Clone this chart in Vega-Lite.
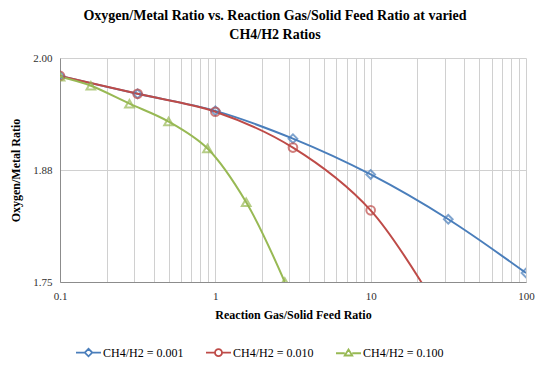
{
  "$schema": "https://vega.github.io/schema/vega-lite/v6.json",
  "autosize": {"type": "none"},
  "width": 466,
  "height": 224,
  "padding": {"left": 60, "top": 58, "right": 24, "bottom": 85},
  "background": "white",
  "title": {
    "text": ["Oxygen/Metal Ratio vs. Reaction Gas/Solid Feed Ratio at varied", "CH4/H2 Ratios"],
    "font": "Liberation Serif",
    "fontSize": 14,
    "fontWeight": "bold",
    "color": "#000000",
    "anchor": "middle",
    "frame": "group",
    "dx": -18,
    "offset": 10,
    "lineHeight": 19
  },
  "config": {
    "view": {"stroke": null},
    "axis": {
      "labelFont": "Liberation Serif",
      "labelFontSize": 11,
      "labelColor": "#303030",
      "labelFlush": false,
      "titleFont": "Liberation Serif",
      "titleFontSize": 12,
      "titleFontWeight": "bold",
      "titleColor": "#000000",
      "gridColor": "#d0d0d0",
      "gridWidth": 1,
      "domainColor": "#8c8c8c",
      "ticks": false
    },
    "legend": {
      "labelFont": "Liberation Serif",
      "labelFontSize": 12,
      "labelColor": "#000000"
    }
  },
  "data": {
    "values": [
      {"series": "CH4/H2 = 0.001", "x": 0.1, "y": 1.980},
      {"series": "CH4/H2 = 0.001", "x": 0.316, "y": 1.960},
      {"series": "CH4/H2 = 0.001", "x": 1, "y": 1.941},
      {"series": "CH4/H2 = 0.001", "x": 3.16, "y": 1.910},
      {"series": "CH4/H2 = 0.001", "x": 10, "y": 1.870},
      {"series": "CH4/H2 = 0.001", "x": 31.6, "y": 1.820},
      {"series": "CH4/H2 = 0.001", "x": 100, "y": 1.760},
      {"series": "CH4/H2 = 0.010", "x": 0.1, "y": 1.980},
      {"series": "CH4/H2 = 0.010", "x": 0.316, "y": 1.960},
      {"series": "CH4/H2 = 0.010", "x": 1, "y": 1.940},
      {"series": "CH4/H2 = 0.010", "x": 3.16, "y": 1.900},
      {"series": "CH4/H2 = 0.010", "x": 10, "y": 1.830},
      {"series": "CH4/H2 = 0.010", "x": 31.6, "y": 1.700},
      {"series": "CH4/H2 = 0.100", "x": 0.1, "y": 1.979},
      {"series": "CH4/H2 = 0.100", "x": 0.158, "y": 1.969},
      {"series": "CH4/H2 = 0.100", "x": 0.28, "y": 1.949},
      {"series": "CH4/H2 = 0.100", "x": 0.5, "y": 1.929},
      {"series": "CH4/H2 = 0.100", "x": 0.89, "y": 1.899},
      {"series": "CH4/H2 = 0.100", "x": 1.58, "y": 1.839},
      {"series": "CH4/H2 = 0.100", "x": 2.8, "y": 1.750}
    ]
  },
  "encoding": {
    "x": {
      "field": "x",
      "type": "quantitative",
      "scale": {"type": "log", "domain": [0.1, 100], "nice": false},
      "axis": {
        "title": "Reaction Gas/Solid Feed Ratio",
        "values": [0.1, 0.2, 0.3, 0.4, 0.5, 0.6, 0.7, 0.8, 0.9, 1, 2, 3, 4, 5, 6, 7, 8, 9, 10, 20, 30, 40, 50, 60, 70, 80, 90, 100],
        "labelExpr": "datum.value == 0.1 ? '0.1' : datum.value == 1 ? '1' : datum.value == 10 ? '10' : datum.value == 100 ? '100' : ''",
        "labelPadding": 8,
        "titlePadding": 8
      }
    },
    "y": {
      "field": "y",
      "type": "quantitative",
      "scale": {"domain": [1.75, 2.0], "nice": false, "zero": false},
      "axis": {
        "title": "Oxygen/Metal Ratio",
        "values": [1.75, 1.875, 2.0],
        "format": ".2f",
        "labelPadding": 8,
        "titlePadding": 10
      }
    },
    "color": {
      "field": "series",
      "type": "nominal",
      "scale": {
        "domain": ["CH4/H2 = 0.001", "CH4/H2 = 0.010", "CH4/H2 = 0.100"],
        "range": ["#4a7ebb", "#be4b48", "#98b954"]
      },
      "legend": {
        "title": null,
        "orient": "none",
        "direction": "horizontal",
        "legendX": 15,
        "legendY": 281,
        "columnPadding": 18,
        "labelOffset": 1,
        "symbolStrokeWidth": 1.8,
        "symbolSize": 625,
        "symbolFillColor": "transparent",
        "encode": {
          "symbols": {
            "update": {
              "shape": {"signal": "datum.value == 'CH4/H2 = 0.001' ? 'M-1,0L-0.3,0M-0.3,0L0,-0.3L0.3,0L0,0.3ZM0.3,0L1,0' : datum.value == 'CH4/H2 = 0.010' ? 'M-1,0L-0.28,0M0.28,0A0.28,0.28,0,1,1,-0.28,0A0.28,0.28,0,1,1,0.28,0M0.28,0L1,0' : 'M-1,0L-0.3,0M-0.3,0.18L0,-0.3L0.3,0.18ZM0.3,0L1,0'"},
              "fill": {"value": "transparent"}
            }
          }
        }
      }
    }
  },
  "layer": [
    {
      "mark": {"type": "line", "interpolate": "catmull-rom", "strokeWidth": 2, "clip": true}
    },
    {
      "transform": [{"filter": "datum.series == 'CH4/H2 = 0.001'"}],
      "mark": {"type": "point", "filled": false, "strokeWidth": 2, "size": 75, "clip": true, "shape": "diamond"}
    },
    {
      "transform": [{"filter": "datum.series == 'CH4/H2 = 0.010'"}],
      "mark": {"type": "point", "filled": false, "strokeWidth": 2, "size": 75, "clip": true, "shape": "circle"}
    },
    {
      "transform": [{"filter": "datum.series == 'CH4/H2 = 0.100'"}],
      "mark": {"type": "point", "filled": false, "strokeWidth": 2, "size": 75, "clip": true, "shape": "triangle-up"}
    }
  ]
}
